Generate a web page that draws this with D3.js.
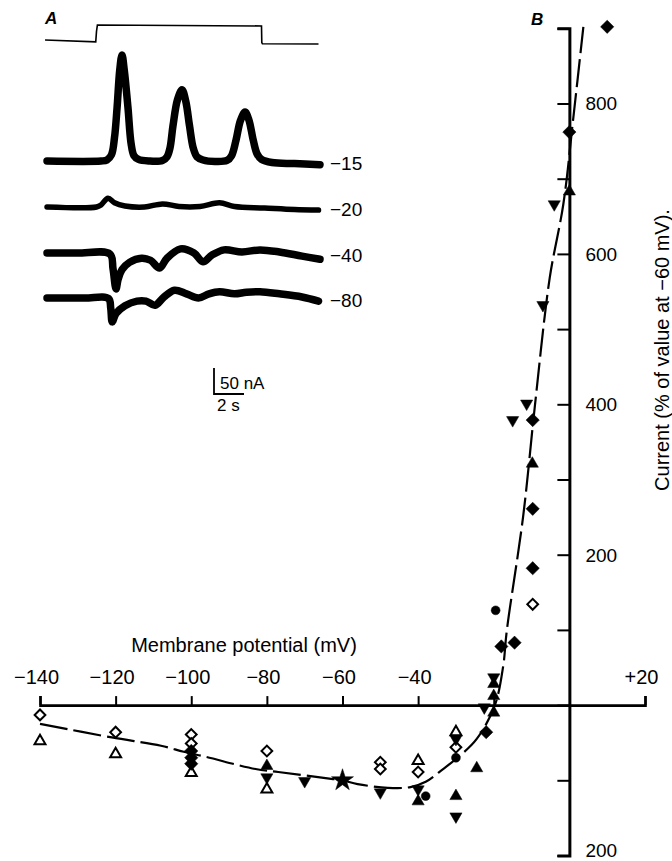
<!DOCTYPE html>
<html>
<head>
<meta charset="utf-8">
<script src="https://cdn.jsdelivr.net/npm/d3@7"></script>
<style>
body { margin: 0; background: #fff; }
svg { display: block; font-family: "Liberation Sans", Arial, Helvetica, sans-serif; }
</style>
</head>
<body>
<svg id="chart" width="672" height="861"></svg>
<script>

/** panel B : membrane potential (mV) vs current (% of value at -60 mV) **/

var xTicks = [-140, -120, -100, -80, -60, -40, -20, 20];
var xLabelled = [-140, -120, -100, -80, -60, -40, 20];
var yTicks = [-200, -100, 0, 100, 200, 300, 400, 500, 600, 700, 800, 900];
var yLabelled = [-200, 200, 400, 600, 800];

var openDiamonds = [[-140, -13], [-120, -36], [-100, -39], [-100, -51], [-80, -61],
    [-50, -76], [-50, -85], [-40, -89], [-30, -56], [-9.7, 134]];
var openTriangles = [[-140, -48], [-120, -65], [-100, -90], [-80, -112], [-40, -74], [-30, -36]];
var filledDiamonds = [[-100, -61], [-100, -70], [-100, -78], [-22, -36], [-18, 78], [-14.5, 83],
    [-9.7, 182], [-9.7, 261], [-9.7, 379], [0, 762], [10, 902]];
var upTriangles = [[-80, -81], [-40, -128], [-30, -121], [-24.5, -84], [-20, 28], [-20, 12],
    [-20, -10], [-9.8, 321], [0, 683]];
var downTriangles = [[-80, -96], [-70, -101], [-50, -116], [-40, -112], [-30, -148], [-30, -45],
    [-22.5, -3], [-20, 37], [-15, 379], [-11.3, 401], [-7, 532], [-4, 666]];
var filledCircles = [[-38, -121], [-30, -70], [-19.5, 126]];
var stars = [[-60, -100]];

// hand drawn fit through the points
var fitCurve = [[-140, -25], [-121, -43], [-108, -54], [-102, -62], [-96, -69], [-83, -85],
    [-77, -89], [-63, -98], [-60, -100], [-56, -105], [-48, -110], [-42, -109], [-38, -102],
    [-33.4, -85], [-29.6, -70], [-24.5, -45], [-19.7, 0], [-17.5, 52], [-16.6, 97],
    [-12.2, 252], [-9.1, 399], [-5.2, 568], [-1.6, 666], [1.0, 779], [3.7, 902]];

/** panel A : current traces (time s, current nA) **/

var stepCommand = [[-0.13, 0.06], [3.25, -0.05], [3.3, 0.6], [3.36, 1.0], [14.3, 0.94],
    [14.32, -0.1], [14.36, -0.17], [18.1, -0.19]];

var trace15 = [[0, 0], [3.6, 0], [4.0, 2], [4.3, 12], [4.5, 45], [4.67, 102], [4.85, 175], [5.0, 204],
    [5.15, 175], [5.4, 102], [5.6, 35], [5.8, 10], [6.1, 3], [6.8, 0], [7.7, 1], [8.0, 8], [8.2, 25],
    [8.4, 68], [8.7, 118], [9.0, 137], [9.25, 115], [9.5, 68], [9.75, 25], [10.0, 8], [10.4, 2],
    [11.2, -1], [12.0, 1], [12.3, 10], [12.6, 40], [12.9, 78], [13.2, 94], [13.45, 80], [13.75, 40],
    [14.0, 14], [14.3, 3], [15.0, -3], [16.5, -5], [18.2, -7]];
var trace20 = [[0, 0], [3.3, 0], [3.6, 4], [4.07, 17], [4.5, 8], [5.2, 2], [6.5, 0], [7.7, 6],
    [8.8, 1], [10.2, 1], [11.5, 8], [12.5, 1], [14.5, -2], [16.5, -5], [18.1, -6]];
var trace40 = [[0, 0], [2, 0], [4.2, -2], [4.4, -30], [4.6, -69], [4.75, -50], [5.0, -32],
    [5.5, -18], [6.3, -10], [6.9, -14], [7.5, -29], [8.0, -10], [8.9, 8], [9.8, 0], [10.4, -17],
    [11.0, -4], [11.8, 6], [13, 2], [14.2, 6], [15.5, 2], [17, -6], [18.2, -12]];
var trace80 = [[0, 0], [2.5, 0], [4.1, -1], [4.25, -20], [4.35, -46], [4.6, -30], [5.2, -15],
    [6.0, -6], [6.6, -6], [7.2, -14], [7.8, 2], [8.5, 15], [9.3, 8], [10.1, 0], [10.8, 8],
    [11.5, 12], [12.5, 8], [13.3, 11], [14.2, 12], [15.5, 8], [17, 2], [18.1, -6]];

var traceNames = ["\u221215", "\u221220", "\u221240", "\u221280"];


var svg = d3.select("#chart");

svg.append("rect")
    .attr("width", 672)
    .attr("height", 861)
    .attr("fill", "#fff");

/** ---------- panel B ---------- **/

var x = d3.scaleLinear()
    .domain([-140, 20])
    .range([40, 645]);

var y = d3.scaleLinear()
    .domain([-200, 900])
    .range([855.5, 28.3]);

var xAxis = d3.axisTop(x)
    .tickValues(xTicks)
    .tickSize(9)
    .tickSizeOuter(9)
    .tickPadding(12)
    .tickFormat(function(d){
        if (xLabelled.indexOf(d) < 0) return "";
        return d > 0 ? "+" + d : "\u2212" + Math.abs(d);
    });

var gx = svg.append("g")
    .attr("transform", "translate(0," + y(0) + ")")
    .call(xAxis);

gx.select(".domain").attr("stroke-width", 2.6);
gx.selectAll(".tick line").attr("stroke-width", 2);
gx.selectAll(".tick text")
    .attr("font-size", 20)
    .attr("font-family", null)
    .attr("dx", -4)
    .attr("fill", "#000");

var yAxis = d3.axisLeft(y)
    .tickValues(yTicks)
    .tickSize(12)
    .tickSizeOuter(12)
    .tickFormat("");

var gy = svg.append("g")
    .attr("transform", "translate(" + x(0) + ",0)")
    .call(yAxis);

gy.select(".domain").attr("stroke-width", 3);
gy.selectAll(".tick line").attr("stroke-width", 2);

svg.append("g")
    .selectAll("text")
    .data(yLabelled)
    .enter().append("text")
    .attr("x", x(0) + 16)
    .attr("y", function(d){ return y(d); })
    .attr("dy", function(d){ return d < 0 ? "0.1em" : "0.36em"; })
    .attr("font-size", 19)
    .text(function(d){ return Math.abs(d); });

svg.append("text")
    .attr("x", 244)
    .attr("y", 652)
    .attr("text-anchor", "middle")
    .attr("font-size", 20)
    .text("Membrane potential (mV)");

svg.append("text")
    .attr("transform", "translate(669,350) rotate(-90)")
    .attr("text-anchor", "middle")
    .attr("font-size", 20)
    .text("Current (% of value at \u221260 mV).");

svg.append("text")
    .attr("x", 531)
    .attr("y", 25)
    .attr("font-size", 17)
    .attr("font-weight", "bold")
    .attr("font-style", "italic")
    .text("B");

// fitted line
var fitLine = d3.line()
    .x(function(d){ return x(d[0]); })
    .y(function(d){ return y(d[1]); })
    .curve(d3.curveCatmullRom.alpha(0.5));

svg.append("path")
    .datum(fitCurve)
    .attr("d", fitLine)
    .attr("fill", "none")
    .attr("stroke", "#000")
    .attr("stroke-width", 2.2)
    .attr("stroke-dasharray", "28,6");

// markers
function drawMarkers(data, type, size, rot, filled){
    svg.append("g")
        .selectAll("path")
        .data(data)
        .enter().append("path")
        .attr("d", d3.symbol().type(type).size(size))
        .attr("transform", function(d){
            return "translate(" + x(d[0]) + "," + y(d[1]) + ") rotate(" + rot + ")";
        })
        .attr("fill", filled ? "#000" : "#fff")
        .attr("stroke", "#000")
        .attr("stroke-width", filled ? 0.5 : 2);
}

drawMarkers(openTriangles, d3.symbolTriangle, 52, 0, false);
drawMarkers(openDiamonds, d3.symbolSquare, 58, 45, false);
drawMarkers(filledDiamonds, d3.symbolSquare, 88, 45, true);
drawMarkers(upTriangles, d3.symbolTriangle, 64, 0, true);
drawMarkers(downTriangles, d3.symbolTriangle, 64, 180, true);
drawMarkers(filledCircles, d3.symbolCircle, 62, 0, true);
drawMarkers(stars, d3.symbolStar, 150, 0, true);

/** ---------- panel A ---------- **/

var t = d3.scaleLinear()
    .domain([0, 18.2])
    .range([47, 320]);

// 50 nA = 26 px
var nA = d3.scaleLinear()
    .domain([0, 50])
    .range([0, -26]);

var stepY = d3.scaleLinear()
    .domain([0, 1])
    .range([41, 25]);

svg.append("text")
    .attr("x", 45)
    .attr("y", 24)
    .attr("font-size", 17)
    .attr("font-weight", "bold")
    .attr("font-style", "italic")
    .text("A");

svg.append("path")
    .datum(stepCommand)
    .attr("d", d3.line()
        .x(function(d){ return t(d[0]); })
        .y(function(d){ return stepY(d[1]); }))
    .attr("fill", "none")
    .attr("stroke", "#000")
    .attr("stroke-width", 1.6);

var traces = [trace15, trace20, trace40, trace80];
var traceBase = [161, 207, 253, 298];
var traceWidth = [7.5, 5.5, 7.5, 7.5];

var traceLine = d3.line()
    .x(function(d){ return t(d[0]); })
    .y(function(d){ return nA(d[1]); })
    .curve(d3.curveCatmullRom.alpha(0.5));

var traceG = svg.append("g")
    .selectAll("g")
    .data(traces)
    .enter().append("g")
    .attr("transform", function(d, i){ return "translate(0," + traceBase[i] + ")"; });

traceG.append("path")
    .attr("d", traceLine)
    .attr("fill", "none")
    .attr("stroke", "#000")
    .attr("stroke-linejoin", "round")
    .attr("stroke-linecap", "round")
    .attr("stroke-width", function(d, i){ return traceWidth[i]; });

traceG.append("text")
    .attr("x", 330)
    .attr("y", 2)
    .attr("dy", "0.36em")
    .attr("font-size", 19)
    .text(function(d, i){ return traceNames[i]; });

// scale bar 50 nA / 2 s
var bar = svg.append("g")
    .attr("transform", "translate(214,394)");

bar.append("path")
    .attr("d", "M0," + nA(50) + "V0H" + (t(2) - t(0)))
    .attr("fill", "none")
    .attr("stroke", "#000")
    .attr("stroke-width", 1.8);

bar.append("text")
    .attr("x", 6)
    .attr("y", -5)
    .attr("font-size", 17)
    .text("50 nA");

bar.append("text")
    .attr("x", 3)
    .attr("y", 17)
    .attr("font-size", 17)
    .text("2 s");

</script>
</body>
</html>
